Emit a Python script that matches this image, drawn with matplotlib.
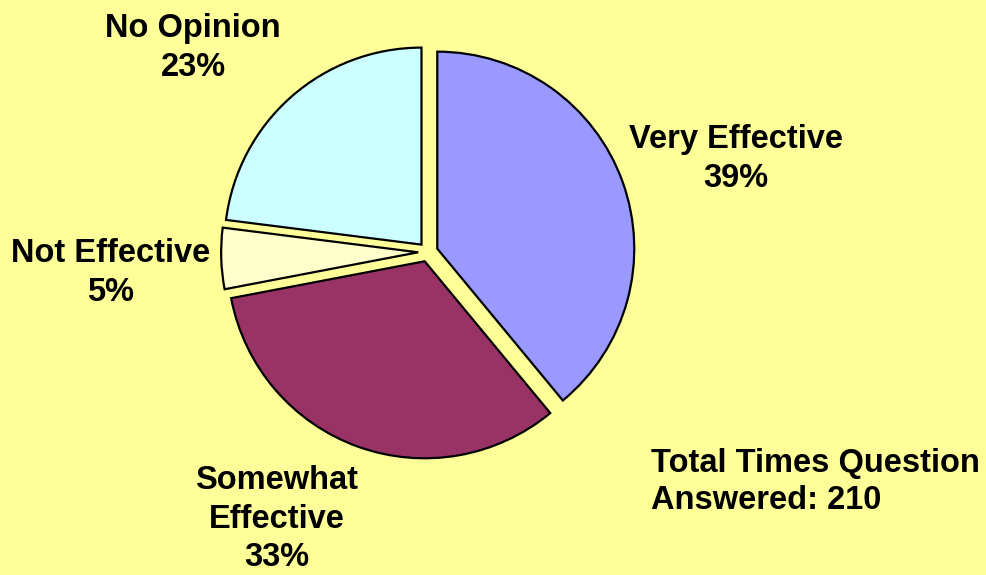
import matplotlib.pyplot as plt

# data
labels = ['Very Effective', 'Somewhat\nEffective', 'Not Effective', 'No Opinion']
values = [39, 33, 5, 23]
colors = ['#9999FF', '#993366', '#FFFFCC', '#CCFFFF']
total = 210

# label anchor points in pixels (from top-left)
label_px = [(736, 159), (277, 519), (111, 273), (193, 48)]

W, H = 986, 575
cx, cy, R = 428, 252, 197  # pie centre and radius in pixels

fig = plt.figure(figsize=(W / 100, H / 100), dpi=100, facecolor='#FFFF99')
ax = fig.add_axes([0, 0, 1, 1])
ax.set_facecolor('#FFFF99')

ax.pie(values, colors=colors, startangle=90, counterclock=False,
       explode=[0.05] * len(values), radius=1,
       wedgeprops=dict(edgecolor='black', linewidth=1.6))

ax.set_xlim(-cx / R, (W - cx) / R)
ax.set_ylim(-(H - cy) / R, cy / R)
ax.set_aspect('equal')
ax.axis('off')

font = dict(family=['Liberation Sans', 'DejaVu Sans'], weight='bold', fontsize=23.5)
for lab, v, (px, py) in zip(labels, values, label_px):
    ax.text((px - cx) / R, (cy - py) / R, f'{lab}\n{v}%', ha='center', va='center',
            linespacing=1.33 if '\n' in lab else 1.37, **font)

ax.text((651 - cx) / R, (cy - 482) / R, f'Total Times Question\nAnswered: {total}',
        ha='left', va='center', linespacing=1.25, **font)

fig.savefig('out.png', dpi=100, facecolor=fig.get_facecolor())
